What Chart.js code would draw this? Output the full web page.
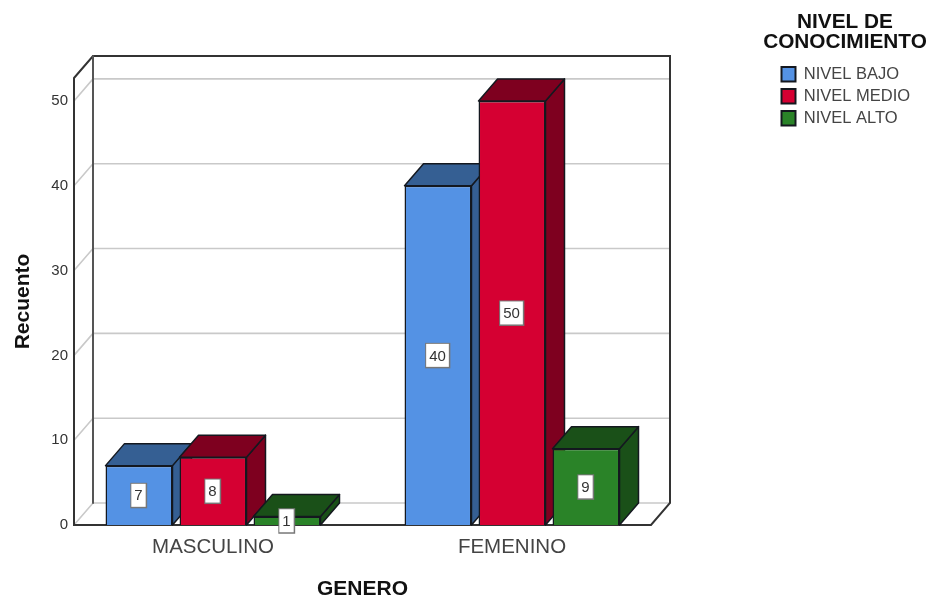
<!DOCTYPE html>
<html>
<head>
<meta charset="utf-8">
<style>
  html, body { margin: 0; padding: 0; background: #fff; }
  #wrap { position: relative; width: 931px; height: 596px; }
</style>
<script src="https://cdn.jsdelivr.net/npm/chart.js@4"></script>
</head>
<body>
<div id="wrap"><canvas id="chart" width="931" height="596"></canvas></div>
<script>
const categories = ['MASCULINO', 'FEMENINO'];
const nivelBajo = [7, 40];
const nivelMedio = [8, 50];
const nivelAlto = [1, 9];
const seriesNames = ['NIVEL BAJO', 'NIVEL MEDIO', 'NIVEL ALTO'];
const frontColors = ['#5492E4', '#D50032', '#2A8328'];
const darkColors = ['#355F93', '#7E001F', '#1A5018'];
const legendTitle = ['NIVEL DE', 'CONOCIMIENTO'];
const FONT = '"Liberation Sans", Arial, sans-serif';

// Oblique projection used by the box and the bar extrusions
const DEPTH_X = 19;
const DEPTH_Y = -22;
const FRAME_INSET = 10.5;

function poly(ctx, pts, fill, stroke, width) {
  ctx.beginPath();
  pts.forEach((p, i) => (i ? ctx.lineTo(p[0], p[1]) : ctx.moveTo(p[0], p[1])));
  if (fill) { ctx.closePath(); ctx.fillStyle = fill; ctx.fill(); }
  if (stroke) { ctx.strokeStyle = stroke; ctx.lineWidth = width; ctx.stroke(); }
}

function drawExtrusion(chart, index) {
  const { ctx } = chart;
  const dark = darkColors[index];
  const line = '#14181F';
  ctx.save();
  ctx.lineJoin = 'round';
  chart.getDatasetMeta(index).data.forEach(bar => {
    const p = bar.getProps(['x', 'y', 'base', 'width']);
    const x0 = p.x - p.width / 2, x1 = p.x + p.width / 2;
    poly(ctx, [[x1, p.y], [x1 + DEPTH_X, p.y + DEPTH_Y], [x1 + DEPTH_X, p.base + DEPTH_Y], [x1, p.base]], dark, line, 1.5);
    poly(ctx, [[x0, p.y], [x0 + DEPTH_X, p.y + DEPTH_Y], [x1 + DEPTH_X, p.y + DEPTH_Y], [x1, p.y]], dark, line, 1.5);
  });
  ctx.restore();
}

const box3d = {
  id: 'box3d',
  // Back wall, side wall, floor and gridlines of the 3D box
  beforeDatasetsDraw(chart) {
    const { ctx, chartArea: a, scales: { y } } = chart;
    const l = a.left + FRAME_INSET, r = a.right - FRAME_INSET, t = a.top, b = a.bottom;
    ctx.save();
    ctx.lineCap = 'round';
    y.ticks.forEach(tick => {
      const py = y.getPixelForValue(tick.value);
      poly(ctx, [[l, py], [l + DEPTH_X, py + DEPTH_Y], [r + DEPTH_X, py + DEPTH_Y]], null, '#C9C9C9', 1.6);
    });
    poly(ctx, [[l, t], [l + DEPTH_X, t + DEPTH_Y], [r + DEPTH_X, t + DEPTH_Y], [r + DEPTH_X, b + DEPTH_Y], [r, b], [l, b], [l, t]], null, '#333333', 2);
    poly(ctx, [[l + DEPTH_X, t + DEPTH_Y], [l + DEPTH_X, b + DEPTH_Y]], null, '#555555', 2);
    ctx.restore();
  },
  // The library paints the first dataset last; the bars must overlap left to right instead
  beforeDatasetDraw() {
    return false;
  },
  afterDatasetsDraw(chart) {
    const { ctx } = chart;
    chart.data.datasets.forEach((ds, i) => {
      drawExtrusion(chart, i);
      chart.getDatasetMeta(i).controller.draw();
    });
    // Boxed value labels centred on each front face
    ctx.save();
    ctx.font = '15px ' + FONT;
    ctx.textAlign = 'center';
    ctx.textBaseline = 'middle';
    chart.data.datasets.forEach((ds, i) => {
      chart.getDatasetMeta(i).data.forEach((bar, j) => {
        const p = bar.getProps(['x', 'y', 'base']);
        const text = String(ds.data[j]);
        const w = ctx.measureText(text).width + 6;
        const h = 23;
        const cx = p.x - 0.5, cy = (p.y + p.base) / 2;
        ctx.fillStyle = '#777777';
        ctx.fillRect(cx - w / 2 - 1, cy - h / 2 - 1, w + 2.5, h + 2.5);
        ctx.fillStyle = '#FFFFFF';
        ctx.fillRect(cx - w / 2, cy - h / 2, w, h);
        ctx.fillStyle = '#333333';
        ctx.fillText(text, cx, cy + 1);
      });
    });
    ctx.restore();
  },
  afterLayout(chart) {
    // Value labels hang just left of the front edge of the box
    chart.scales.y.right = 68;
    // Legend block sits to the right of the box, its title above it
    const lg = chart.legend;
    lg.left = 776; lg.top = 60.5;
    lg.right = lg.left + lg.width; lg.bottom = lg.top + lg.height;
    lg.adjustHitBoxes();
  },
  afterDraw(chart) {
    const { ctx } = chart;
    ctx.save();
    ctx.font = 'bold 20.8px ' + FONT;
    ctx.fillStyle = '#111111';
    ctx.textAlign = 'center';
    ctx.textBaseline = 'middle';
    legendTitle.forEach((line, i) => ctx.fillText(line, 845, 22 + i * 20));
    ctx.restore();
  }
};

const seriesValues = [nivelBajo, nivelMedio, nivelAlto];

new Chart(document.getElementById('chart'), {
  type: 'bar',
  data: {
    labels: categories,
    datasets: seriesValues.map((values, i) => ({
      label: seriesNames[i],
      data: values,
      backgroundColor: frontColors[i],
      borderColor: '#14181F',
      borderWidth: 1.5,
      categoryPercentage: 0.7425,
      barPercentage: 0.905
    }))
  },
  options: {
    responsive: false,
    animation: false,
    layout: { padding: { left: 0, right: 269.5, top: 78, bottom: 0 } },
    plugins: {
      tooltip: { enabled: false },
      legend: {
        position: 'chartArea',
        align: 'start',
        labels: {
          boxWidth: 14,
          boxHeight: 14.5,
          padding: 5.5,
          color: '#444444',
          font: { family: FONT, size: 16.5 },
          generateLabels(chart) {
            return Chart.defaults.plugins.legend.labels.generateLabels(chart).map(item => ({ ...item, lineWidth: 2 }));
          }
        }
      }
    },
    scales: {
      x: {
        afterFit(s) { s.height = 71; },
        grid: { display: false, drawTicks: false },
        border: { display: false },
        ticks: { color: '#444444', padding: 10, font: { family: FONT, size: 20.5 }, maxRotation: 0 },
        title: {
          display: true,
          text: 'GENERO',
          color: '#111111',
          font: { family: FONT, size: 21, weight: 'bold', lineHeight: 1 },
          padding: { top: 0, bottom: -4 }
        }
      },
      y: {
        min: 0,
        max: 52.7,
        afterFit(s) { s.width = 63.5; },
        grid: { display: false, drawTicks: false },
        border: { display: false },
        ticks: { stepSize: 10, includeBounds: false, color: '#333333', padding: 0, font: { family: FONT, size: 15 } },
        title: {
          display: true,
          text: 'Recuento',
          color: '#111111',
          font: { family: FONT, size: 21, weight: 'bold', lineHeight: 1.2 },
          padding: { top: 11, bottom: 0 }
        }
      }
    }
  },
  plugins: [box3d]
});
</script>
</body>
</html>
